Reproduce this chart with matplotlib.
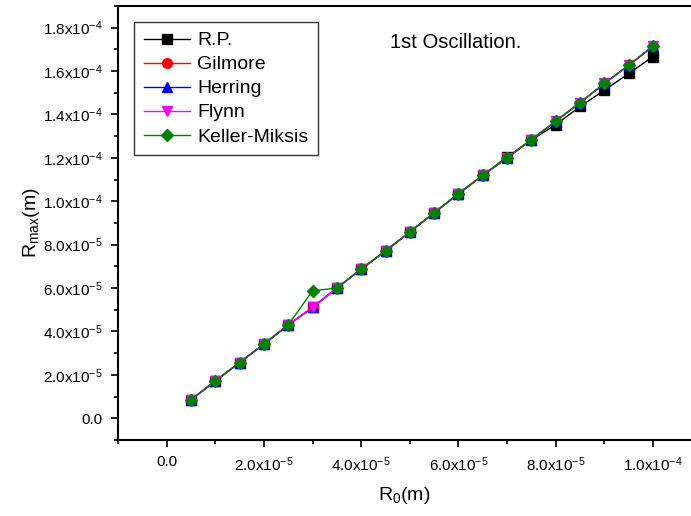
import numpy as np
import matplotlib
matplotlib.use('Agg')
from matplotlib import pyplot as plt
from matplotlib.ticker import MultipleLocator, FuncFormatter

plt.rcParams['font.family'] = ['Liberation Sans', 'DejaVu Sans']

# R0 (m) and first-oscillation maximum radius for each model
r0 = [5e-6, 1e-5, 1.5e-5, 2e-5, 2.5e-5, 3e-5, 3.5e-5, 4e-5, 4.5e-5, 5e-5,
      5.5e-5, 6e-5, 6.5e-5, 7e-5, 7.5e-5, 8e-5, 8.5e-5, 9e-5, 9.5e-5, 1e-4]
rp = [8.5e-6, 1.72e-5, 2.57e-5, 3.42e-5, 4.3e-5, 5.11e-5, 6.0e-5, 6.88e-5, 7.71e-5, 8.59e-5,
      9.47e-5, 1.035e-4, 1.12e-4, 1.205e-4, 1.283e-4, 1.353e-4, 1.437e-4, 1.512e-4, 1.589e-4, 1.667e-4]
gilmore = [8.5e-6, 1.72e-5, 2.57e-5, 3.42e-5, 4.3e-5, 5.11e-5, 6.0e-5, 6.88e-5, 7.71e-5, 8.59e-5,
           9.47e-5, 1.035e-4, 1.12e-4, 1.2e-4, 1.284e-4, 1.369e-4, 1.455e-4, 1.543e-4, 1.627e-4, 1.715e-4]
herring = [8.5e-6, 1.72e-5, 2.57e-5, 3.42e-5, 4.3e-5, 5.11e-5, 6.0e-5, 6.88e-5, 7.71e-5, 8.59e-5,
           9.47e-5, 1.035e-4, 1.12e-4, 1.2e-4, 1.284e-4, 1.369e-4, 1.455e-4, 1.543e-4, 1.627e-4, 1.715e-4]
flynn = [8.5e-6, 1.72e-5, 2.57e-5, 3.42e-5, 4.3e-5, 5.11e-5, 6.0e-5, 6.88e-5, 7.71e-5, 8.59e-5,
         9.47e-5, 1.035e-4, 1.12e-4, 1.2e-4, 1.284e-4, 1.369e-4, 1.455e-4, 1.543e-4, 1.627e-4, 1.715e-4]
keller = [8.5e-6, 1.72e-5, 2.57e-5, 3.42e-5, 4.3e-5, 5.88e-5, 6.0e-5, 6.88e-5, 7.71e-5, 8.59e-5,
          9.47e-5, 1.035e-4, 1.12e-4, 1.2e-4, 1.284e-4, 1.369e-4, 1.455e-4, 1.543e-4, 1.627e-4, 1.715e-4]

names = ['R.P.', 'Gilmore', 'Herring', 'Flynn', 'Keller-Miksis']
colors = ['black', 'red', 'blue', 'magenta', '#008000']
markers = ['s', 'o', '^', 'v', 'D']
sizes = [6.5, 7, 7, 7, 6]

fig = plt.figure(figsize=(6.91, 5.16), dpi=100)
ax = fig.add_axes([118/691, 1-440/516, 1-118/691, (440-6)/516])

for ys, nm, c, m, s in zip([rp, gilmore, herring, flynn, keller], names, colors, markers, sizes):
    ax.plot(r0, ys, color=c, marker=m, markersize=s, linewidth=1, label=nm)

def sci(v, pos):
    if abs(v) < 1e-12:
        return '0.0'
    e = int(np.floor(np.log10(abs(v))))
    return r'$\mathregular{%.1fx10^{%d}}$' % (v / 10**e, e)

ax.xaxis.set_minor_locator(MultipleLocator(1e-5))
ax.yaxis.set_minor_locator(MultipleLocator(1e-5))
ax.xaxis.set_major_formatter(FuncFormatter(sci))
ax.yaxis.set_major_formatter(FuncFormatter(sci))
ax.set_yticks(np.arange(0, 1.81e-4, 2e-5))
ax.set_xticks(np.arange(0, 1.01e-4, 2e-5))
ax.set_ylim(-1e-5, 1.9e-4)
ax.set_xlim(-1.0e-5, 1.078e-4)

ax.tick_params(which='major', direction='out', length=5, width=1.2, labelsize=11, pad=6)
ax.tick_params(which='minor', direction='out', length=3, width=1.2)
ax.spines['right'].set_visible(False)
for sp in ['left', 'bottom', 'top']:
    ax.spines[sp].set_linewidth(1.5)

ax.set_xlabel(r'$\mathregular{R_0(m)}$', fontsize=14, labelpad=8)
ax.set_ylabel(r'$\mathregular{R_{max}(m)}$', fontsize=14, labelpad=1)

ax.text(0.475, 0.917, '1st Oscillation.', transform=ax.transAxes, fontsize=14.5, va='center')

leg = ax.legend(loc='upper left', bbox_to_anchor=(0.028, 0.963), fontsize=14, frameon=True,
                fancybox=False, edgecolor='black', handlelength=2.4, labelspacing=0.33,
                borderpad=0.5, handletextpad=0.35, borderaxespad=0)
leg.get_frame().set_linewidth(1)

fig.savefig('out.png', dpi=100)
